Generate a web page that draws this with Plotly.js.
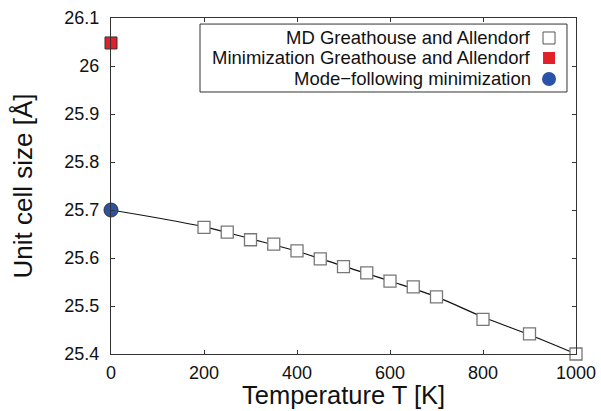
<!DOCTYPE html>
<html><head><meta charset="utf-8">
<script src="https://cdn.plot.ly/plotly-3.0.1.min.js"></script>
<style>html,body{margin:0;padding:0;background:#fff}</style>
</head><body>
<div id="chart" style="width:601px;height:411px"></div>
<script>
// MD data (Greathouse and Allendorf)
const mdT = [200, 250, 300, 350, 400, 450, 500, 550, 600, 650, 700, 800, 900, 1000];
const mdSize = [25.664, 25.654, 25.638, 25.629, 25.615, 25.598, 25.582, 25.569, 25.552, 25.540, 25.519, 25.472, 25.442, 25.400];
// Minimization Greathouse and Allendorf
const minT = [0];
const minSize = [26.048];
// Mode-following minimization
const modeT = [0];
const modeSize = [25.70];
// Fitted curve
const fitT = [0, 200, 300, 400, 500, 600, 700, 800, 900, 1000];
const fitSize = [25.700, 25.665, 25.640, 25.614, 25.583, 25.552, 25.519, 25.477, 25.440, 25.400];
const legendLabels = ["MD Greathouse and Allendorf", "Minimization Greathouse and Allendorf", "Mode\u2212following minimization"];
const xTicks = [0, 200, 400, 600, 800, 1000];
const yTicks = [25.4, 25.5, 25.6, 25.7, 25.8, 25.9, 26, 26.1];
const yTickText = ["25.4", "25.5", "25.6", "25.7", "25.8", "25.9", "26", "26.1"];
const xTitle = "Temperature T [K]";
const yTitle = "Unit cell size [Å]";

const font = "Liberation Sans, Arial, sans-serif";
const traces = [
  {x: fitT, y: fitSize, mode: "lines", line: {color: "#111", width: 1.2, shape: "spline"}, showlegend: false, hoverinfo: "skip", cliponaxis: false},
  {x: mdT, y: mdSize, mode: "markers", name: legendLabels[0], cliponaxis: false,
   marker: {symbol: "square", size: 12, color: "#fff", line: {color: "#777", width: 1.3}}},
  {x: minT, y: minSize, mode: "markers", name: legendLabels[1], cliponaxis: false,
   marker: {symbol: "square", size: 12, color: "#e3202a", line: {color: "#333", width: 1}}},
  {x: modeT, y: modeSize, mode: "markers", name: legendLabels[2], cliponaxis: false,
   marker: {symbol: "circle", size: 14, color: "#2a52a6", line: {color: "#333", width: 1}}}
];

const rowsY = [0.9405, 0.881, 0.8185];
const textX = 0.9075, markX = 0.942;
const shapes = [
  {type: "rect", xref: "paper", yref: "paper", x0: 0.1914, x1: 0.9806, y0: 0.7798, y1: 0.982,
   line: {color: "#333", width: 1}, fillcolor: "#fff", layer: "above"},
  {type: "rect", xref: "paper", yref: "paper", xsizemode: "pixel", ysizemode: "pixel",
   xanchor: markX, yanchor: rowsY[0], x0: -6, x1: 6, y0: -6, y1: 6,
   line: {color: "#555", width: 1}, fillcolor: "#fff", layer: "above"},
  {type: "rect", xref: "paper", yref: "paper", xsizemode: "pixel", ysizemode: "pixel",
   xanchor: markX, yanchor: rowsY[1], x0: -6, x1: 6, y0: -6, y1: 6,
   line: {color: "#e3202a", width: 0}, fillcolor: "#e3202a", layer: "above"},
  {type: "circle", xref: "paper", yref: "paper", xsizemode: "pixel", ysizemode: "pixel",
   xanchor: markX, yanchor: rowsY[2], x0: -7, x1: 7, y0: -7, y1: 7,
   line: {color: "#2a52a6", width: 0}, fillcolor: "#2a52a6", layer: "above"}
];
const annotations = legendLabels.map((t, i) => ({
  xref: "paper", yref: "paper", x: textX, y: rowsY[i], xanchor: "right", yanchor: "middle",
  text: t, showarrow: false, font: {family: font, size: 18.5, color: "#111"}
}));
annotations.push({
  xref: "paper", yref: "paper", x: 0.5, y: -0.1696, xanchor: "center", yanchor: "bottom",
  text: xTitle, showarrow: false, font: {family: font, size: 25.5, color: "#111"}
});

const layout = {
  width: 601, height: 411,
  margin: {l: 111, r: 25, t: 18, b: 57},
  paper_bgcolor: "#fff", plot_bgcolor: "#fff",
  showlegend: false,
  font: {family: font, color: "#111"},
  xaxis: {range: [0, 1000], tickvals: xTicks, ticktext: xTicks.map(String),
    ticks: "inside", ticklen: 4, tickcolor: "#333", showline: true, linecolor: "#333", linewidth: 1,
    mirror: "ticks", showgrid: false, zeroline: false, tickfont: {size: 18, family: font},
    ticklabelstandoff: 2},
  yaxis: {range: [25.4, 26.1], tickvals: yTicks, ticktext: yTickText,
    ticks: "inside", ticklen: 4, tickcolor: "#333", showline: true, linecolor: "#333", linewidth: 1,
    mirror: "ticks", showgrid: false, zeroline: false, tickfont: {size: 18, family: font},
    ticklabelstandoff: 7,
    title: {text: yTitle, font: {size: 26, family: font}, standoff: 24}},
  shapes: shapes,
  annotations: annotations
};
Plotly.newPlot("chart", traces, layout, {displayModeBar: false, staticPlot: true});
</script>
</body></html>
